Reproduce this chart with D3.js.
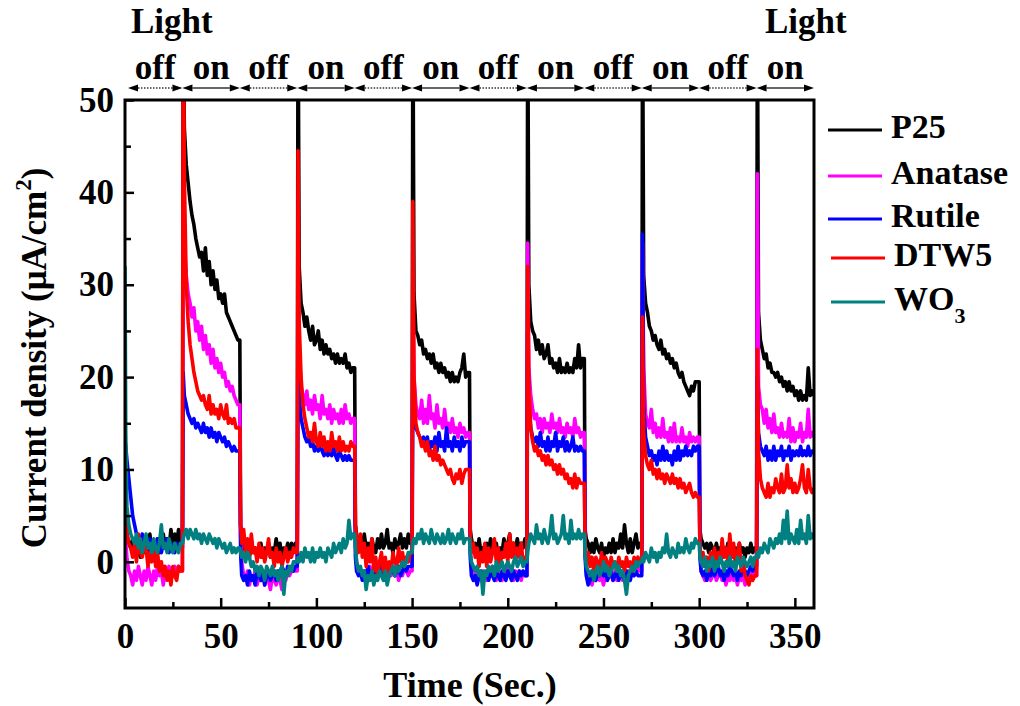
<!DOCTYPE html>
<html>
<head>
<meta charset="utf-8">
<script src="https://cdnjs.cloudflare.com/ajax/libs/d3/7.8.5/d3.min.js"></script>
<style>
  body { margin: 0; background: #fff; }
  text { font-family: "Liberation Serif", "Times New Roman", serif; font-weight: bold; fill: #000; }
</style>
</head>
<body>
<svg id="chart" width="1020" height="706"></svg>
<script>
// Light switching blocks (sec.) and the sample offsets read inside each block
var blockStarts = [0, 30, 60, 90, 120, 150, 180, 210, 240, 270, 300, 330];
var sampleOffsets = [0, 0.4, 1, 2, 3, 4, 5, 6, 7, 8, 9, 10, 11, 12, 13, 14, 15,
  16, 17, 18, 19, 20, 21, 22, 23, 24, 25, 26, 27, 28, 29];
var endTime = 360;
var lightStates = ["off", "on", "off", "on", "off", "on", "off", "on", "off", "on", "off", "on"];

var seriesNames = ["P25", "Anatase", "Rutile", "DTW5", "WO3"];

// current density (uA/cm2), one row per 30 s block, last value at 360 s
var p25 = [
  5, 4.5, 3, 2, 1.5, 2.5, 1, 2, 1.5, 0.5, 2.5, 1, 2, 1.5, 3, 1, 2, 1.5, 2.5, 1, 2, 3, 1.5, 2.5, 1.5, 3.5, 1.5, 3, 2, 3.5, 2,
  2, 62, 47, 43, 41, 39, 37.5, 36.5, 35, 34, 33, 33.5, 31.5, 34, 31, 32.5, 30, 31.5, 29.5, 30.5, 28.5, 29, 28, 29, 27, 26.5, 26, 25.5, 25, 24.5, 24,
  24, 4, 2.5, 2, 1, 1.5, 0.5, 2, 1, 1.5, 0.5, 1, 2, 0.5, 1.5, 1, 2, 0.5, 1.5, 1, 2.5, 1, 2, 0.5, 1.5, 1, 2, 0.5, 2, 1, 2,
  2, 62, 32, 28, 27, 25.5, 26.5, 25, 24, 25.5, 23.5, 24, 25, 23, 24, 22.5, 23.5, 22.5, 23, 22, 22.5, 21.5, 22.5, 21.5, 22, 21.5, 22.5, 21, 21.5, 20.5, 21,
  21, 4, 3, 2, 2.5, 1.5, 3, 1.5, 2, 1, 2.5, 1.5, 1, 2.5, 1.5, 3, 1.5, 2, 3.5, 1.5, 2, 1, 2.5, 1.5, 2, 3, 1.5, 2.5, 1.5, 3, 2,
  2, 62, 29, 25, 24.5, 23.5, 24, 22.5, 23, 22, 22.5, 21.5, 22.5, 21, 21.5, 20.5, 21.5, 20.5, 21, 20, 20.5, 19.5, 20.5, 19.5, 20, 19.5, 20.5, 21, 22.5, 20, 20.5,
  20.5, 3.5, 2.5, 1.5, 2, 1, 2.5, 1, 1.5, 0.5, 2, 1, 2.5, 1.5, 1, 2, 0.5, 1.5, 1, 2.5, 1, 2, 3, 1, 2, 1.5, 2.5, 1, 2, 1.5, 2.5,
  2.5, 62, 30, 26, 25, 24.5, 23, 24, 22.5, 23.5, 22, 22.5, 23.5, 21.5, 22, 21, 21.5, 20.5, 22, 20.5, 21, 20.5, 21.5, 20.5, 21, 20.5, 22, 21, 23.5, 21, 22,
  22, 3.5, 2.5, 2, 1, 2, 1, 2.5, 1.5, 1, 2, 0.5, 1.5, 1, 2, 1, 2.5, 1, 2, 1.5, 3, 1.5, 4, 2, 1, 2.5, 1, 2, 3, 1.5, 2,
  2, 62, 31, 28, 27, 25.5, 25, 24, 24.5, 23.5, 23, 24, 22.5, 23, 22, 22.5, 21.5, 22, 21, 21.5, 20.5, 20, 20.5, 19.5, 19, 18.5, 18, 19, 18.5, 19.5, 19.5,
  19.5, 3.5, 2.5, 2, 1.5, 2, 1, 2, 1.5, 1, 2, 1, 1.5, 0.5, 1.5, 1, 2, 1, 1.5, 0.5, 1.5, 1, 2, 1, 1.5, 0.5, 1.5, 1, 2, 1, 1.5,
  1.5, 62, 27, 24, 23, 22, 22.5, 21, 21.5, 20.5, 20.5, 20, 20.5, 19.5, 20, 19, 19.5, 18.5, 19.5, 18.5, 19, 18, 18.5, 17.5, 18.5, 17.5, 18, 17.5, 21, 18, 18.5,
  18
];
var anatase = [
  3, 2, 0.5, -1, -1.5, -2.5, -1, -2, -0.5, -1.5, -2.5, -1, -2, -0.5, -1.5, -2.5, -1, -2, -0.5, -1.5, -1, -2.5, -1, -1.5, -0.5, -2, -1, -0.5, -1.5, -0.5, -1,
  -1, 38, 34, 31, 29, 28, 26.5, 27.5, 25, 26, 24, 25.5, 23, 24.5, 22.5, 23.5, 21.5, 23, 21, 22, 20.5, 21.5, 20, 20.5, 19, 19.5, 18.5, 19, 18, 17.5, 17,
  17, 3, 0, -1.5, -2, -1, -2.5, -1.5, -2, -1, -2.5, -1.5, -2, -1, -2.5, -1.5, -2, -3, -1.5, -2, -2.5, -1.5, -2, -3, -1.5, -2, -1, -1.5, -1, -0.5, -1,
  -1, 30, 23, 19, 18, 17, 18.5, 16.5, 17.5, 16, 18, 16.5, 17, 15.5, 18, 16, 16.5, 15.5, 17, 15, 16.5, 15.5, 16, 15, 16.5, 15, 17, 15.5, 16, 15, 15.5,
  15.5, 2, 0, -1, -1.5, -1, -2, -1, -1.5, -0.5, -1.5, -1, -2, -1, -1.5, -0.5, -1.5, -1, -2, -1, -1.5, -0.5, -1.5, -1, -2, -1, -1.5, -0.5, -1, -1.5, -1,
  -1, 30, 20, 17, 16, 15.5, 17.5, 15, 16.5, 15, 18, 15.5, 16, 14.5, 17, 15, 15.5, 14.5, 16.5, 14.5, 15, 14, 15.5, 14, 14.5, 13.5, 15, 14, 14.5, 13.5, 14,
  14, 1.5, -0.5, -1.5, -2, -1, -1.5, -2, -1, -1.5, -2, -1, -1.5, -0.5, -1.5, -2, -1, -1.5, -2, -1, -1.5, -0.5, -1.5, -1, -2, -1, -1.5, -1, -2, -1, -1.5,
  -1.5, 34.5, 21, 18, 16.5, 15.5, 16, 14.5, 15.5, 14, 15.5, 14.5, 15, 14, 16, 14.5, 15, 14, 15.5, 14, 14.5, 13.5, 15, 14, 14.5, 13.5, 15.5, 14, 14.5, 13.5, 14,
  14, 1.5, -1, -2, -1.5, -2.5, -1.5, -2, -1, -2, -1.5, -2.5, -1.5, -2, -1, -1.5, -2, -1, -2, -1.5, -1, -2, -1.5, -2, -1, -1.5, -0.5, -1.5, -1, -0.5, -1,
  -1, 34.5, 21, 16, 15, 14.5, 16.5, 14, 15, 13.5, 14.5, 13.5, 15.5, 13.5, 14, 13, 14.5, 13, 15, 13, 13.5, 13, 14.5, 13, 13.5, 12.5, 14, 13, 13.5, 13, 13.5,
  13.5, 1.5, -1, -1.5, -2, -1, -1.5, -2, -1.5, -1, -2, -1.5, -1, -2, -1.5, -2.5, -1.5, -2, -1, -2, -1.5, -2.5, -1.5, -2, -1.5, -2.5, -1.5, -2, -1.5, -1, -1.5,
  -1.5, 42, 19, 17, 16.5, 15, 16.5, 14.5, 15.5, 14, 16, 14, 14.5, 13.5, 15, 13.5, 14, 13.5, 15.5, 13, 14.5, 13, 14, 13.5, 15, 13, 14, 13.5, 16.5, 13.5, 14,
  13.5
];
var rutile = [
  13, 12.5, 11, 9, 7, 5, 4, 3, 2.5, 2, 3, 1.5, 2, 1, 2.5, 1.5, 2, 1, 2.5, 1.5, 1, 2, 1.5, 2.5, 1, 2, 1.5, 1, 2, 1.5, 1.5,
  1.5, 20.5, 18, 17, 16, 15.5, 15, 15.5, 14.5, 15, 14.5, 14, 15, 14, 14.5, 13.5, 14.5, 13.5, 14, 13, 14, 13.5, 13, 13.5, 12.5, 13, 12.5, 12, 12.5, 12, 12,
  12, 1, -1.5, -2, -1.5, -2.5, -1, -2, -1.5, -2.5, -1, -1.5, -2, -1, -2.5, -1.5, -1, -2, -1.5, -1, -2, -1, -1.5, -0.5, -1, -1.5, -0.5, -1, -0.5, -1, -0.5,
  -0.5, 21, 18, 15.5, 14.5, 13.5, 13, 13.5, 12.5, 13, 12, 12.5, 12, 13, 12, 11.5, 12.5, 11.5, 12, 11.5, 12.5, 11.5, 11, 12, 11.5, 11, 11.5, 11, 11.5, 11, 11,
  11, 0.5, -1, -1.5, -1, -2, -1, -1.5, -0.5, -1.5, -1, -2, -1, -1.5, -0.5, -1.5, -1, -2, -1, -1.5, -0.5, -1, -1.5, -1, -0.5, -1.5, -1, -0.5, -1, -0.5, -0.5,
  -0.5, 20, 16, 14.5, 14, 13.5, 13, 13.5, 12.5, 13.5, 12, 13, 12.5, 13.5, 12, 14, 12.5, 13, 12, 14.5, 12.5, 13, 12, 13.5, 12.5, 13, 12, 13.5, 12.5, 13, 13,
  13, 0.5, -1.5, -2, -1.5, -2.5, -1.5, -1, -2, -1.5, -1, -2, -1, -1.5, -2, -1, -1.5, -2, -1, -1.5, -2, -1, -1.5, -2, -1, -1.5, -2, -1, -1.5, -1, -1.5,
  -1.5, 25, 17, 14.5, 13.5, 13, 13.5, 12.5, 14, 12.5, 13, 12, 13.5, 12, 13, 12.5, 14, 12, 13, 12.5, 13.5, 12, 13, 12, 12.5, 13.5, 12, 12.5, 12, 12.5, 12,
  12, 0.5, -1.5, -2.5, -2, -1, -1.5, -2, -1, -1.5, -0.5, -1.5, -1, -2, -1.5, -1, -2, -1.5, -1, -2, -1, -1.5, -2, -1, -1.5, -2, -1, -1.5, -1, -1.5, -1.5,
  -1.5, 35.5, 17, 13.5, 12.5, 11.5, 12, 11, 11.5, 10.5, 12, 11, 12.5, 11, 12, 11, 11.5, 10.5, 12, 11, 12.5, 11, 12, 11.5, 12.5, 11.5, 12, 11.5, 12.5, 12, 12.5,
  12.5, 0.5, -1, -1.5, -1, -2, -1, -1.5, -0.5, -1.5, -1, -0.5, -1.5, -1, -2, -1, -1.5, -0.5, -1, -1.5, -1, -2, -1, -1.5, -0.5, -1, -1.5, -1, -0.5, -1, -0.5,
  -0.5, 20, 14, 12.5, 12, 11.5, 12.5, 11, 12, 11, 12.5, 11, 12, 11.5, 12.5, 11, 12, 11.5, 12.5, 11, 12, 11.5, 12, 11.5, 12.5, 11.5, 12, 11.5, 12.5, 11.5, 12,
  12
];
var dtw5 = [
  5, 4.5, 3, 2, 1.5, 0.5, 2, 0, 3, 1, 0.5, 2, 1.5, -0.5, 1, 0, 2, -0.5, 1, -1, 0, -1.5, -0.5, -2, -1, -2.5, -0.5, -1.5, -2, -0.5, -1,
  -1, 62, 42, 30, 26, 23.5, 22, 20.5, 19.5, 18.5, 18, 17.5, 18, 17, 16.5, 18, 16, 17, 16, 16.5, 15.5, 17, 16, 15.5, 17, 15, 15.5, 15, 15.5, 14.5, 14.5,
  14.5, 4, 2, 3.5, 1, 2.5, 0.5, 3, 1, 1.5, 0, 2, 0.5, 1.5, 0, 1, 2.5, 0.5, 1, -0.5, 1.5, 0, 1, -0.5, 0.5, 1.5, 0, 1, 0.5, 1.5, 1,
  1, 44.5, 26, 20, 17, 15.5, 14.5, 13.5, 14, 13, 15, 13, 12.5, 14, 12.5, 13.5, 12, 13, 12, 14, 12.5, 13, 12, 13.5, 12, 13, 12, 12.5, 12, 13, 12.5,
  12.5, 4, 2.5, 1, 3, 0.5, 2, -0.5, 1.5, 0, 2.5, -1, 0.5, -1.5, 0, 1, -1, 0.5, -1.5, 0, -1, 1, 0, -0.5, 1.5, 0, 1, -0.5, 0.5, 0, 1,
  1, 39, 20, 15, 14, 13.5, 12.5, 13, 12, 13, 11.5, 12, 11, 12.5, 11, 11.5, 10.5, 11, 10.5, 10, 9.5, 10, 9, 8.5, 9.5, 9, 10, 8.5, 9.5, 10, 10,
  10, 3, 1, 2, 0.5, 1.5, -0.5, 1, 0, 2, -0.5, 1.5, 0, 1, 2.5, 0, 1.5, -0.5, 1, 0.5, 2, 0, 3, 0.5, 2, 0, 1.5, 0.5, 2, 0, 0.5,
  0.5, 32, 19, 14.5, 13, 12, 12.5, 11.5, 12, 11, 11.5, 10.5, 11.5, 10.5, 11, 10, 10.5, 9.5, 10.5, 9.5, 10, 9, 9.5, 8.5, 9, 8, 9.5, 8, 9, 8.5, 8.5,
  8.5, 2, 0, 1, -0.5, 0.5, -1, 0.5, 0, -1, 1, -0.5, 0.5, 0, -1, 0.5, -0.5, 0, -1, 0.5, -0.5, 0, -1, 0.5, -0.5, 0, -1, 0.5, -0.5, 0.5, 0,
  0, 26.5, 14, 11.5, 10.5, 10, 11, 9.5, 10, 9, 10, 9, 9.5, 8.5, 9.5, 9, 8.5, 9.5, 8.5, 9, 8, 9, 8, 8.5, 7.5, 8, 8.5, 7.5, 7, 7.5, 7,
  7, 1.5, 0, 1, -0.5, 0.5, -1, 1, 0, 1.5, -0.5, 1, 0, 2.5, 0.5, 1.5, 0, 3, 0.5, 2, -0.5, 1, 2, -1, 0, -1.5, -2, -2.5, -1.5, -2, -1.5,
  -1.5, 23, 12, 9, 8, 7.5, 7, 8.5, 7, 8, 7.5, 9, 8, 7.5, 9.5, 7.5, 8, 10.5, 8, 9, 7.5, 8.5, 7.5, 8, 9, 10.5, 8, 7.5, 10, 8, 7.5,
  8
];
var wo3 = [
  32, 14, 6, 4, 3, 2.5, 2, 3, 1.5, 2.5, 1, 2, 3, 1.5, 2, 1, 2.5, 1.5, 1, 2, 4, 1.5, 2, 1, 2.5, 1.5, 1, 2, 1.5, 1, 2,
  2, 2.5, 3, 3.5, 2.5, 3.5, 3, 2.5, 3.5, 2.5, 3, 2, 3, 2.5, 2, 3, 2.5, 2, 2.5, 1.5, 2.5, 2, 1.5, 2, 1, 1.5, 2, 1, 1.5, 1, 1.5,
  1.5, 1, 0.5, 1, 0, 1, 0.5, -0.5, 0, -1, -0.5, -1.5, -0.5, -1, -2, -0.5, -1, -1.5, -0.5, -1.5, -1, -2, -1, -0.5, -3.5, -1, -1.5, -0.5, -1, 0, 0,
  0, 0.5, 0, 1, 0, 1.5, 0.5, 1, 0, 1.5, 0, 1, 0.5, 1.5, 0.5, 1, 0, 1.5, 1, 0.5, 2, 1, 1.5, 2, 1, 2.5, 1.5, 2, 4.5, 2.5, 3,
  3, 1.5, 0, -1, -0.5, -1.5, -1, -3, -1.5, -2, -1, -2.5, -1.5, -2, -1, -1.5, -2, -1, -2.5, -1.5, -1, -0.5, -1.5, -0.5, -1, -0.5, 0, -0.5, 0, 1, 1,
  1, 2, 2.5, 2, 3, 2.5, 3.5, 2, 3, 2.5, 2, 3.5, 2.5, 2, 3, 2.5, 2, 3, 2, 2.5, 3.5, 2, 3, 2.5, 2, 3, 2.5, 3.5, 2, 2.5, 2.5,
  2.5, 1, 0, -0.5, -1, -0.5, -1.5, -1, -3.5, -1, -1.5, -0.5, -1, -0.5, -1.5, 0, -1, -0.5, 0, -1, -0.5, 0, -0.5, -1, 0, 0.5, -0.5, 0, 0.5, -0.5, 0,
  0, 1, 2, 3, 2.5, 2, 4, 2.5, 3, 2, 3.5, 2.5, 2, 3, 5, 2.5, 3, 2, 2.5, 3, 5, 2.5, 3, 2, 4.5, 2.5, 3, 2.5, 3.5, 2.5, 3,
  3, 1, -0.5, -1, -1.5, -1, -2, -1, -0.5, -1.5, -1, 0, -1, -0.5, -1.5, -1, -0.5, 0, -1, -0.5, -1.5, -1, -2, -3.5, -1.5, -1, -0.5, -1, 0, -0.5, 0,
  0, 0.5, 0, 1, 0.5, 0, 1.5, 0.5, 1, 0, 1, 0.5, 1.5, 1, 3, 1, 0.5, 1.5, 1, 0.5, 2, 1, 1.5, 1, 2.5, 1.5, 1, 2, 1.5, 2.5, 2,
  2, 0.5, 0, -0.5, 0.5, -1, 0, -0.5, 0.5, -1, 0, -0.5, 0.5, 0, -1, 0, -0.5, 0.5, -0.5, 0, -1, 0.5, 0, -0.5, 0.5, 0, -0.5, 0, 0.5, -0.5, 0.5,
  0.5, 1, 0.5, 1.5, 1, 2, 1.5, 1, 2.5, 2, 1.5, 2.5, 2, 3, 2, 4.5, 2.5, 5.5, 2, 3, 2.5, 2, 3.5, 2, 4.5, 2.5, 3, 2, 5, 2.5, 3,
  2.5
];

var xMajor = [0, 50, 100, 150, 200, 250, 300, 350];
var xMinor = [25, 75, 125, 175, 225, 275, 325];
var yMajor = [0, 10, 20, 30, 40, 50];
var yMinor = [5, 15, 25, 35, 45];

var colors = ["#000000", "#ff00ff", "#0000ff", "#ff0000", "#008080"];
var allSeries = [p25, anatase, rutile, dtw5, wo3];

var times = [];
blockStarts.forEach(function (b) {
  sampleOffsets.forEach(function (o) { times.push(b + o); });
});
times.push(endTime);

var svg = d3.select("#chart");
var plot = { left: 125, right: 814, top: 100, bottom: 608 };
var fontFamily = "'Liberation Serif', 'Times New Roman', serif";

var x = d3.scaleLinear().domain([0, 360]).range([plot.left, plot.right]);
var y = d3.scaleLinear().domain([-5, 50]).range([plot.bottom, plot.top]);

svg.append("defs").append("clipPath").attr("id", "clip")
  .append("rect")
  .attr("x", plot.left).attr("y", plot.top)
  .attr("width", plot.right - plot.left).attr("height", plot.bottom - plot.top);

// data lines
var line = d3.line()
  .x(function (d, i) { return x(times[i]); })
  .y(function (d) { return y(d); });

var lines = svg.append("g").attr("clip-path", "url(#clip)");
allSeries.forEach(function (s, i) {
  lines.append("path")
    .attr("d", line(s))
    .attr("fill", "none")
    .attr("stroke", colors[i])
    .attr("stroke-width", 3.6)
    .attr("stroke-linejoin", "round");
});

// axes with inward ticks
function styleAxis(g) {
  g.select(".domain").remove();
  g.selectAll(".tick line").attr("stroke", "#000").attr("stroke-width", 2.5);
  g.selectAll(".tick text")
    .attr("font-size", 35)
    .attr("font-family", fontFamily)
    .attr("font-weight", "bold");
}

svg.append("g")
  .attr("transform", "translate(0," + plot.bottom + ")")
  .call(d3.axisBottom(x).tickValues(xMajor).tickSize(-10).tickPadding(15).tickFormat(d3.format("d")))
  .call(styleAxis);
svg.append("g")
  .attr("transform", "translate(0," + plot.bottom + ")")
  .call(d3.axisBottom(x).tickValues(xMinor).tickSize(-6).tickFormat(""))
  .call(styleAxis);
svg.append("g")
  .attr("transform", "translate(" + plot.left + ",0)")
  .call(d3.axisLeft(y).tickValues(yMajor).tickSize(-9).tickPadding(11).tickFormat(d3.format("d")))
  .call(styleAxis);
svg.append("g")
  .attr("transform", "translate(" + plot.left + ",0)")
  .call(d3.axisLeft(y).tickValues(yMinor).tickSize(-6).tickFormat(""))
  .call(styleAxis);

// frame
svg.append("rect")
  .attr("x", plot.left).attr("y", plot.top)
  .attr("width", plot.right - plot.left).attr("height", plot.bottom - plot.top)
  .attr("fill", "none").attr("stroke", "#000").attr("stroke-width", 3);

// axis titles
svg.append("text")
  .attr("x", 470).attr("y", 697)
  .attr("text-anchor", "middle")
  .attr("font-size", 36)
  .text("Time (Sec.)");

var yTitle = svg.append("text")
  .attr("transform", "translate(46,358) rotate(-90)")
  .attr("text-anchor", "middle")
  .attr("font-size", 35);
yTitle.append("tspan").text("Current density (\u03bcA/cm");
yTitle.append("tspan").attr("font-size", 23).attr("dy", -15).text("2");
yTitle.append("tspan").attr("dy", 15).text(")");

// light on/off arrows
var arrowY = 88, head = 10, half = 3.5;
var arrows = svg.append("g");
lightStates.forEach(function (state, i) {
  var x1 = x(blockStarts[i]) + (i === 0 ? 3 : 0);
  var x2 = x(i + 1 < blockStarts.length ? blockStarts[i + 1] : endTime);
  arrows.append("line")
    .attr("x1", x1 + head).attr("x2", x2 - head)
    .attr("y1", arrowY).attr("y2", arrowY)
    .attr("stroke", "#333")
    .attr("stroke-width", 1.3)
    .attr("stroke-dasharray", state === "off" ? "1.5,1.5" : null);
  arrows.append("path")
    .attr("d", "M" + x1 + "," + arrowY + "L" + (x1 + head) + "," + (arrowY - half) + "L" + (x1 + head) + "," + (arrowY + half) + "Z")
    .attr("fill", "#000");
  arrows.append("path")
    .attr("d", "M" + x2 + "," + arrowY + "L" + (x2 - head) + "," + (arrowY - half) + "L" + (x2 - head) + "," + (arrowY + half) + "Z")
    .attr("fill", "#000");
  arrows.append("text")
    .attr("x", (x1 + x2) / 2).attr("y", 79)
    .attr("text-anchor", "middle")
    .attr("font-size", 35)
    .text(state);
});

svg.append("text").attr("x", 131).attr("y", 33).attr("font-size", 35).text("Light");
svg.append("text").attr("x", 765).attr("y", 33).attr("font-size", 35).text("Light");

// legend
var legendRows = [130, 176, 219, 258, 302];
seriesNames.forEach(function (name, i) {
  var ly = legendRows[i];
  var shift = i >= 3 ? 3 : 0;
  svg.append("line")
    .attr("x1", 828 + shift).attr("x2", 882 + shift)
    .attr("y1", ly).attr("y2", ly)
    .attr("stroke", colors[i]).attr("stroke-width", 3);
  var t = svg.append("text")
    .attr("x", 891 + shift).attr("y", ly + 8)
    .attr("font-size", 34);
  if (name === "WO3") {
    t.append("tspan").text("WO");
    t.append("tspan").attr("font-size", 22).attr("dy", 13).text("3");
  } else {
    t.text(name);
  }
});
</script>
</body>
</html>
